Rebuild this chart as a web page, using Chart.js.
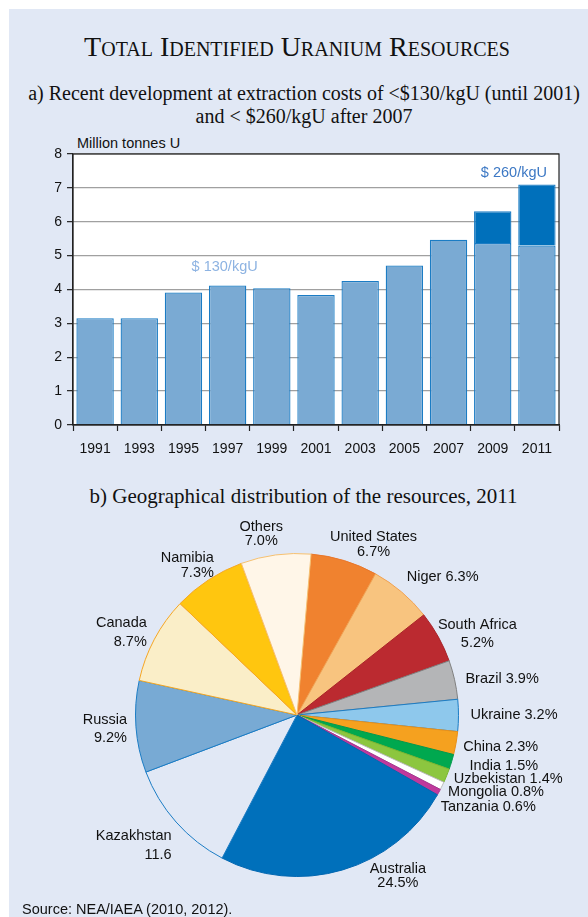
<!DOCTYPE html>
<html>
<head>
<meta charset="utf-8">
<script src="https://cdn.jsdelivr.net/npm/chart.js@4.4.1/dist/chart.umd.min.js"></script>
<style>
  html, body { margin:0; padding:0; width:588px; height:917px; overflow:hidden; background:#ffffff; }
  #panel { position:absolute; left:9px; top:9px; width:579px; height:908px; background:#e1e8f5; }
  .serif { position:absolute; font-family:"Liberation Serif","Times New Roman",serif; color:#111; text-align:center; white-space:nowrap; }
  #title { left:0; width:594px; top:32px; font-size:28px; line-height:30px; font-variant:small-caps; }
  #sub { left:0; width:608px; top:82px; font-size:20px; line-height:23px; }
  #subb { left:0; width:607px; top:485px; font-size:21px; line-height:23px; }
  #ylab { position:absolute; left:77px; top:134px; font-family:"Liberation Sans",Arial,sans-serif; font-size:14.5px; line-height:18px; color:#111; }
  #source { position:absolute; left:22px; top:900px; font-family:"Liberation Sans",Arial,sans-serif; font-size:14.5px; line-height:18px; color:#111; }
  #bar { position:absolute; left:0; top:128px; }
  #pie { position:absolute; left:0; top:505px; }
</style>
</head>
<body>
<div id="panel"></div>
<div id="title" class="serif">Total Identified Uranium Resources</div>
<div id="sub" class="serif">a) Recent development at extraction costs of &lt;$130/kgU (until 2001)<br>and &lt; $260/kgU after 2007</div>
<div id="subb" class="serif">b) Geographical distribution of the resources, 2011</div>
<div id="ylab">Million tonnes U</div>
<canvas id="bar" width="588" height="332"></canvas>
<canvas id="pie" width="594" height="420"></canvas>
<div id="source">Source: NEA/IAEA (2010, 2012).</div>
<script>
// ---------- DATA ----------
const years = ['1991','1993','1995','1997','1999','2001','2003','2005','2007','2009','2011'];
const res130 = [3.15, 3.15, 3.91, 4.12, 4.04, 3.84, 4.25, 4.71, 5.47, 5.37, 5.30];
const res260extra = [null, null, null, null, null, null, null, null, null, 0.94, 1.80];
const yTicks = [0, 1, 2, 3, 4, 5, 6, 7, 8];

const countries = ['United States','Niger','South Africa','Brazil','Ukraine','China','India','Uzbekistan','Mongolia','Tanzania','Australia','Kazakhstan','Russia','Canada','Namibia','Others'];
const shares = [6.7, 6.3, 5.2, 3.9, 3.2, 2.3, 1.5, 1.4, 0.8, 0.6, 24.5, 11.6, 9.2, 8.7, 7.3, 7.0];
const shareLabels = ['United States\n6.7%','Niger 6.3%','South Africa\n5.2%','Brazil 3.9%','Ukraine 3.2%','China 2.3%','India 1.5%','Uzbekistan 1.4%','Mongolia 0.8%','Tanzania 0.6%','Australia\n24.5%','Kazakhstan\n11.6','Russia\n9.2%','Canada\n8.7%','Namibia\n7.3%','Others\n7.0%'];

// ---------- STYLE ----------
const SANS = '"Liberation Sans", Arial, sans-serif';
const sliceFill = ['#f0822f','#f8c47f','#bb2a30','#b4b5b7','#8ec8ec','#f5a11f','#00a84f','#8cc63f','#ffffff','#c0399c','#0070bb','#e1e8f5','#78aad4','#faeec8','#ffc60f','#fff6e8'];
const sliceBorder = ['#e8762a','#f0a050','#a82228','#808080','#1b7cc4','#e8901a','#00994a','#7ab530','#bbbbbb','#a83090','#0066b0','#1b7cc4','#1b7cc4','#f5a623','#f5a623','#f5c070'];

// ---------- BAR CHART ----------
const plotBg = {
  id:'plotBg',
  beforeDraw(chart){
    const {ctx, chartArea:a} = chart;
    ctx.save(); ctx.fillStyle='#ffffff'; ctx.fillRect(a.left, a.top, a.right-a.left, a.bottom-a.top); ctx.restore();
  },
  afterDraw(chart){
    const {ctx, chartArea:a} = chart;
    ctx.save(); ctx.strokeStyle='#222'; ctx.lineWidth=1.2;
    ctx.strokeRect(a.left, a.top, a.right-a.left, a.bottom-a.top); ctx.restore();
  }
};
const costNotes = {
  id:'costNotes',
  afterDatasetsDraw(chart, args, opts){
    const {ctx, scales:{x, y}} = chart;
    ctx.save();
    ctx.font = '14.5px ' + SANS; ctx.textAlign='center'; ctx.textBaseline='middle';
    for (const n of opts.notes){
      ctx.fillStyle = n.color;
      ctx.fillText(n.text, x.getPixelForValue(n.index) + n.shift, y.getPixelForValue(n.value));
    }
    ctx.restore();
  }
};
new Chart(document.getElementById('bar'), {
  type:'bar',
  data:{
    labels: years,
    datasets:[
      { label:'$130/kgU', data: res130, backgroundColor:'#7aaad3', borderColor:'#1b7cc4', borderWidth:1.3, stack:'s' },
      { label:'$260/kgU', data: res260extra, backgroundColor:'#0070bb', borderColor:'#1b7cc4', borderWidth:1.3, stack:'s' }
    ]
  },
  options:{
    responsive:false, animation:false, devicePixelRatio:1,
    layout:{ padding:{ left:0, right:29, top:26, bottom:0 } },
    datasets:{ bar:{ categoryPercentage:1, barPercentage:0.846 } },
    plugins:{ legend:{display:false}, tooltip:{enabled:false}, title:{display:false},
      costNotes:{ notes:[
        { text:'$ 130/kgU', index:3, value:4.67, shift:-3, color:'#8db3e2' },
        { text:'$ 260/kgU', index:10, value:7.43, shift:-23, color:'#3c78c4' }
      ]}
    },
    scales:{
      x:{ stacked:true, offset:true,
        grid:{ display:true, offset:true, drawOnChartArea:false, drawTicks:true, tickLength:6, tickColor:'#222', tickWidth:1.2 },
        border:{ display:true, color:'#222', width:1.2 },
        ticks:{ color:'#111', font:{ family:SANS, size:14 }, padding:10, maxRotation:0, autoSkip:false },
        afterFit(s){ s.height = 35; }
      },
      y:{ stacked:true, min:0, max:8,
        afterBuildTicks(s){ s.ticks = yTicks.map(v=>({value:v})); },
        grid:{ color:'#a0a0a0', lineWidth:1.3, tickLength:6, tickColor:'#222', tickWidth:1.2 },
        border:{ display:true, color:'#222', width:1.2 },
        ticks:{ color:'#111', font:{ family:SANS, size:14 }, padding:5 },
        afterFit(s){ s.width = 73; }
      }
    }
  },
  plugins:[plotBg, costNotes]
});

// ---------- PIE CHART ----------
const pieLabels = {
  id:'pieLabels',
  afterDatasetsDraw(chart, args, opts){
    const {ctx} = chart;
    const meta = chart.getDatasetMeta(0);
    const texts = chart.data.datasets[0].labelText;
    ctx.save();
    ctx.font = '14.5px ' + SANS; ctx.fillStyle = '#111'; ctx.textBaseline='middle';
    meta.data.forEach((arc, i) => {
      const name = chart.data.labels[i];
      const lh = opts.lineHeight[name] || 16;
      const a = (arc.startAngle + arc.endAngle)/2;
      const r = arc.outerRadius + opts.gap;
      const ax = arc.x + Math.cos(a)*r, ay = arc.y + Math.sin(a)*r;
      const lines = texts[i].split('\n');
      const w = Math.max(...lines.map(l=>ctx.measureText(l).width));
      const h = lines.length*lh;
      const nud = opts.nudge[name] || [0,0];
      const cx = ax + Math.cos(a)*w/2 + nud[0];
      const cy = ay + Math.sin(a)*h/2 + nud[1];
      const leftSide = Math.cos(a) < -0.2;
      lines.forEach((l, k) => {
        const ly = cy - h/2 + lh/2 + k*lh;
        if (leftSide){ ctx.textAlign='right'; ctx.fillText(l, cx + w/2, ly); }
        else { ctx.textAlign='center'; ctx.fillText(l, cx, ly); }
      });
    });
    ctx.restore();
  }
};
new Chart(document.getElementById('pie'), {
  type:'pie',
  data:{
    labels: countries,
    datasets:[{ data: shares, labelText: shareLabels, backgroundColor: sliceFill, borderColor: sliceBorder, borderWidth:1 }]
  },
  options:{
    responsive:false, animation:false, devicePixelRatio:1,
    rotation:5,
    layout:{ padding:{ left:135, right:135, top:47, bottom:47 } },
    plugins:{ legend:{display:false}, tooltip:{enabled:false},
      pieLabels:{ gap:12,
        lineHeight:{ 'Canada':19, 'Russia':18, 'Kazakhstan':19, 'South Africa':18, 'United States':15, 'Others':14, 'Namibia':15, 'Australia':14 },
        nudge:{
          'United States':[13,10], 'Niger':[10,0], 'South Africa':[-6,12], 'Brazil':[0,4], 'China':[-4,0],
          'India':[8,-2], 'Uzbekistan':[0,-4], 'Mongolia':[0,-3], 'Tanzania':[-3,5],
          'Australia':[44,-19], 'Kazakhstan':[-5,3], 'Russia':[3,0], 'Canada':[0,8], 'Namibia':[0,8], 'Others':[-10,5]
        } }
    }
  },
  plugins:[pieLabels]
});
</script>
</body>
</html>
